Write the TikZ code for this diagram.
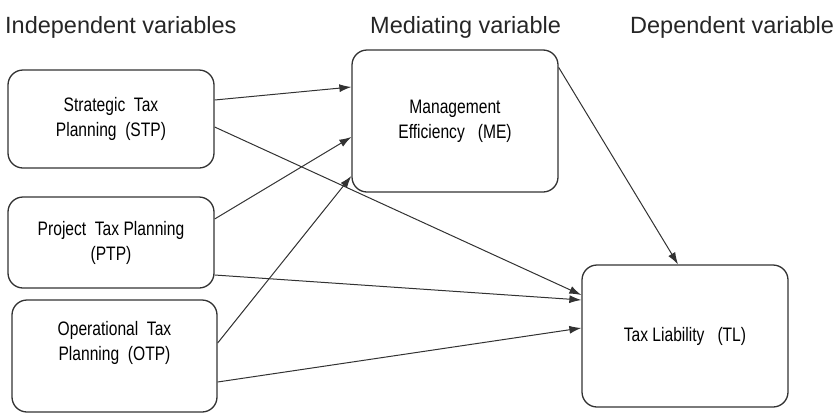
\documentclass[tikz,border=0pt]{standalone}
\usepackage{fontspec}
\setmainfont{Liberation Sans}
\newfontfamily\boxfont[FakeStretch=0.8]{Liberation Sans}
\usetikzlibrary{arrows.meta}
\definecolor{boxgray}{RGB}{50,50,50}
\definecolor{headgray}{RGB}{38,38,38}

\begin{document}
\begin{tikzpicture}[x=1pt,y=-1pt]

%
% Styles
%
\tikzstyle{factor}  = [draw=boxgray,line width=1.3pt,rounded corners=15pt,align=center,inner sep=0pt,
                       font=\boxfont\fontsize{19.5}{25}\selectfont,minimum width=206pt]
\tikzstyle{link}    = [-{Latex[length=12pt,width=8pt]},line width=1pt,draw=boxgray]
\tikzstyle{heading} = [anchor=base west,inner sep=0pt,text=headgray,font=\fontsize{23.5}{28}\selectfont]

\useasboundingbox (0,0) rectangle (840,418);

\node[heading] (hind) at (5,33)   {Independent variables};
\node[heading] (hmed) at (370,33) {Mediating variable};
\node[heading] (hdep) at (630,33) {Dependent variable};

\node[factor,minimum height=98pt]  (stp) at (111,119)   {Strategic\ \ Tax\\Planning\ \ (STP)};
\node[factor,minimum height=91pt]  (ptp) at (111,242.5) {Project\ \ Tax Planning\\(PTP)};
\node[factor,minimum height=112pt,minimum width=205pt,text depth=30pt]
                                   (otp) at (114.5,356) {Operational\ \ Tax\\Planning\ \ (OTP)};
\node[factor,minimum height=142pt] (me)  at (455,121)   {Management\\Efficiency\ \ \ (ME)};
\node[factor,minimum height=142pt] (tl)  at (685,336)   {Tax Liability\ \ \ (TL)};

\draw[link] ([yshift=19pt]stp.east)    -- ([yshift=34pt]me.west);
\draw[link] ([yshift=-8pt]stp.east)    -- ([yshift=41pt]tl.west);
\draw[link] ([yshift=23.5pt]ptp.east)  -- ([yshift=-16pt]me.west);
\draw[link] ([yshift=-32.5pt]ptp.east) -- ([yshift=36pt]tl.west);
\draw[link] ([yshift=13pt]otp.east)    -- ([yshift=-55pt]me.west);
\draw[link] ([yshift=-26pt]otp.east)   -- ([yshift=8pt]tl.west);
\draw[link] ([yshift=-18pt]me.north east) -- ([xshift=-7pt]tl.north);

\end{tikzpicture}
\end{document}
